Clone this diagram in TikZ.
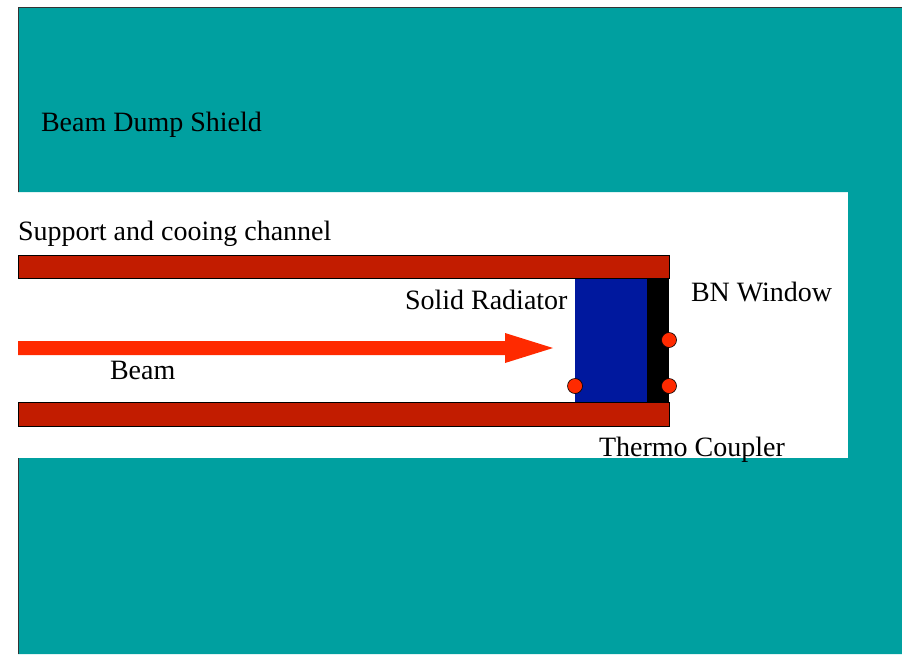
\documentclass[tikz,border=0pt]{standalone}
\usepackage{fontspec}
\setmainfont{Liberation Serif}
\definecolor{shield}{RGB}{0,160,160}
\definecolor{channel}{RGB}{194,28,0}
\definecolor{radiator}{RGB}{0,24,158}
\definecolor{beamred}{RGB}{255,42,0}
\tikzset{
  label text/.style={anchor=base west,inner sep=0pt,outer sep=0pt,text=black,font=\fontsize{28}{28}\selectfont},
  edge line/.style={draw=black!80,line width=0.8pt},
  channel bar/.style={fill=channel,draw=black,line width=0.9pt},
  dot/.style={circle,fill=beamred,draw=black,line width=0.6pt,minimum size=15pt,inner sep=0pt,outer sep=0pt}
}
\begin{document}
\begin{tikzpicture}[x=1pt,y=-1pt]
\useasboundingbox (0,0) rectangle (902,654);
\fill[white] (0,0) rectangle (902,654);
% shield
\fill[shield] (18,7) -- (902,7) -- (902,654) -- (18,654) -- (18,458) -- (848,458) -- (848,192) -- (18,192) -- cycle;
\draw[edge line] (18,192) -- (18,7) -- (902,7);
\draw[edge line] (18,458) -- (18,654);
% radiator and window
\fill[radiator] (575,278) rectangle (647,402);
\fill[black] (647,278) rectangle (669,402);
% channel
\draw[channel bar] (18.5,255.5) rectangle (669,278);
\draw[channel bar] (18.5,402.5) rectangle (669,426);
% beam
\fill[beamred] (18,341) -- (505,341) -- (505,333) -- (553,348) -- (505,363) -- (505,355) -- (18,355) -- cycle;
% dots
\node[dot] (d1) at (669,340) {};
\node[dot] (d2) at (669,386) {};
\node[dot] (d3) at (575,386) {};
% labels
\node[label text] (t1) at (41,131.5) {Beam Dump Shield};
\node[label text] (t2) at (18,240) {Support and cooing channel};
\node[label text] (t3) at (405,309) {Solid Radiator};
\node[label text] (t4) at (691,301.5) {BN Window};
\node[label text] (t5) at (110,379) {Beam};
\node[label text] (t6) at (599,456) {Thermo Coupler};
\end{tikzpicture}
\end{document}
